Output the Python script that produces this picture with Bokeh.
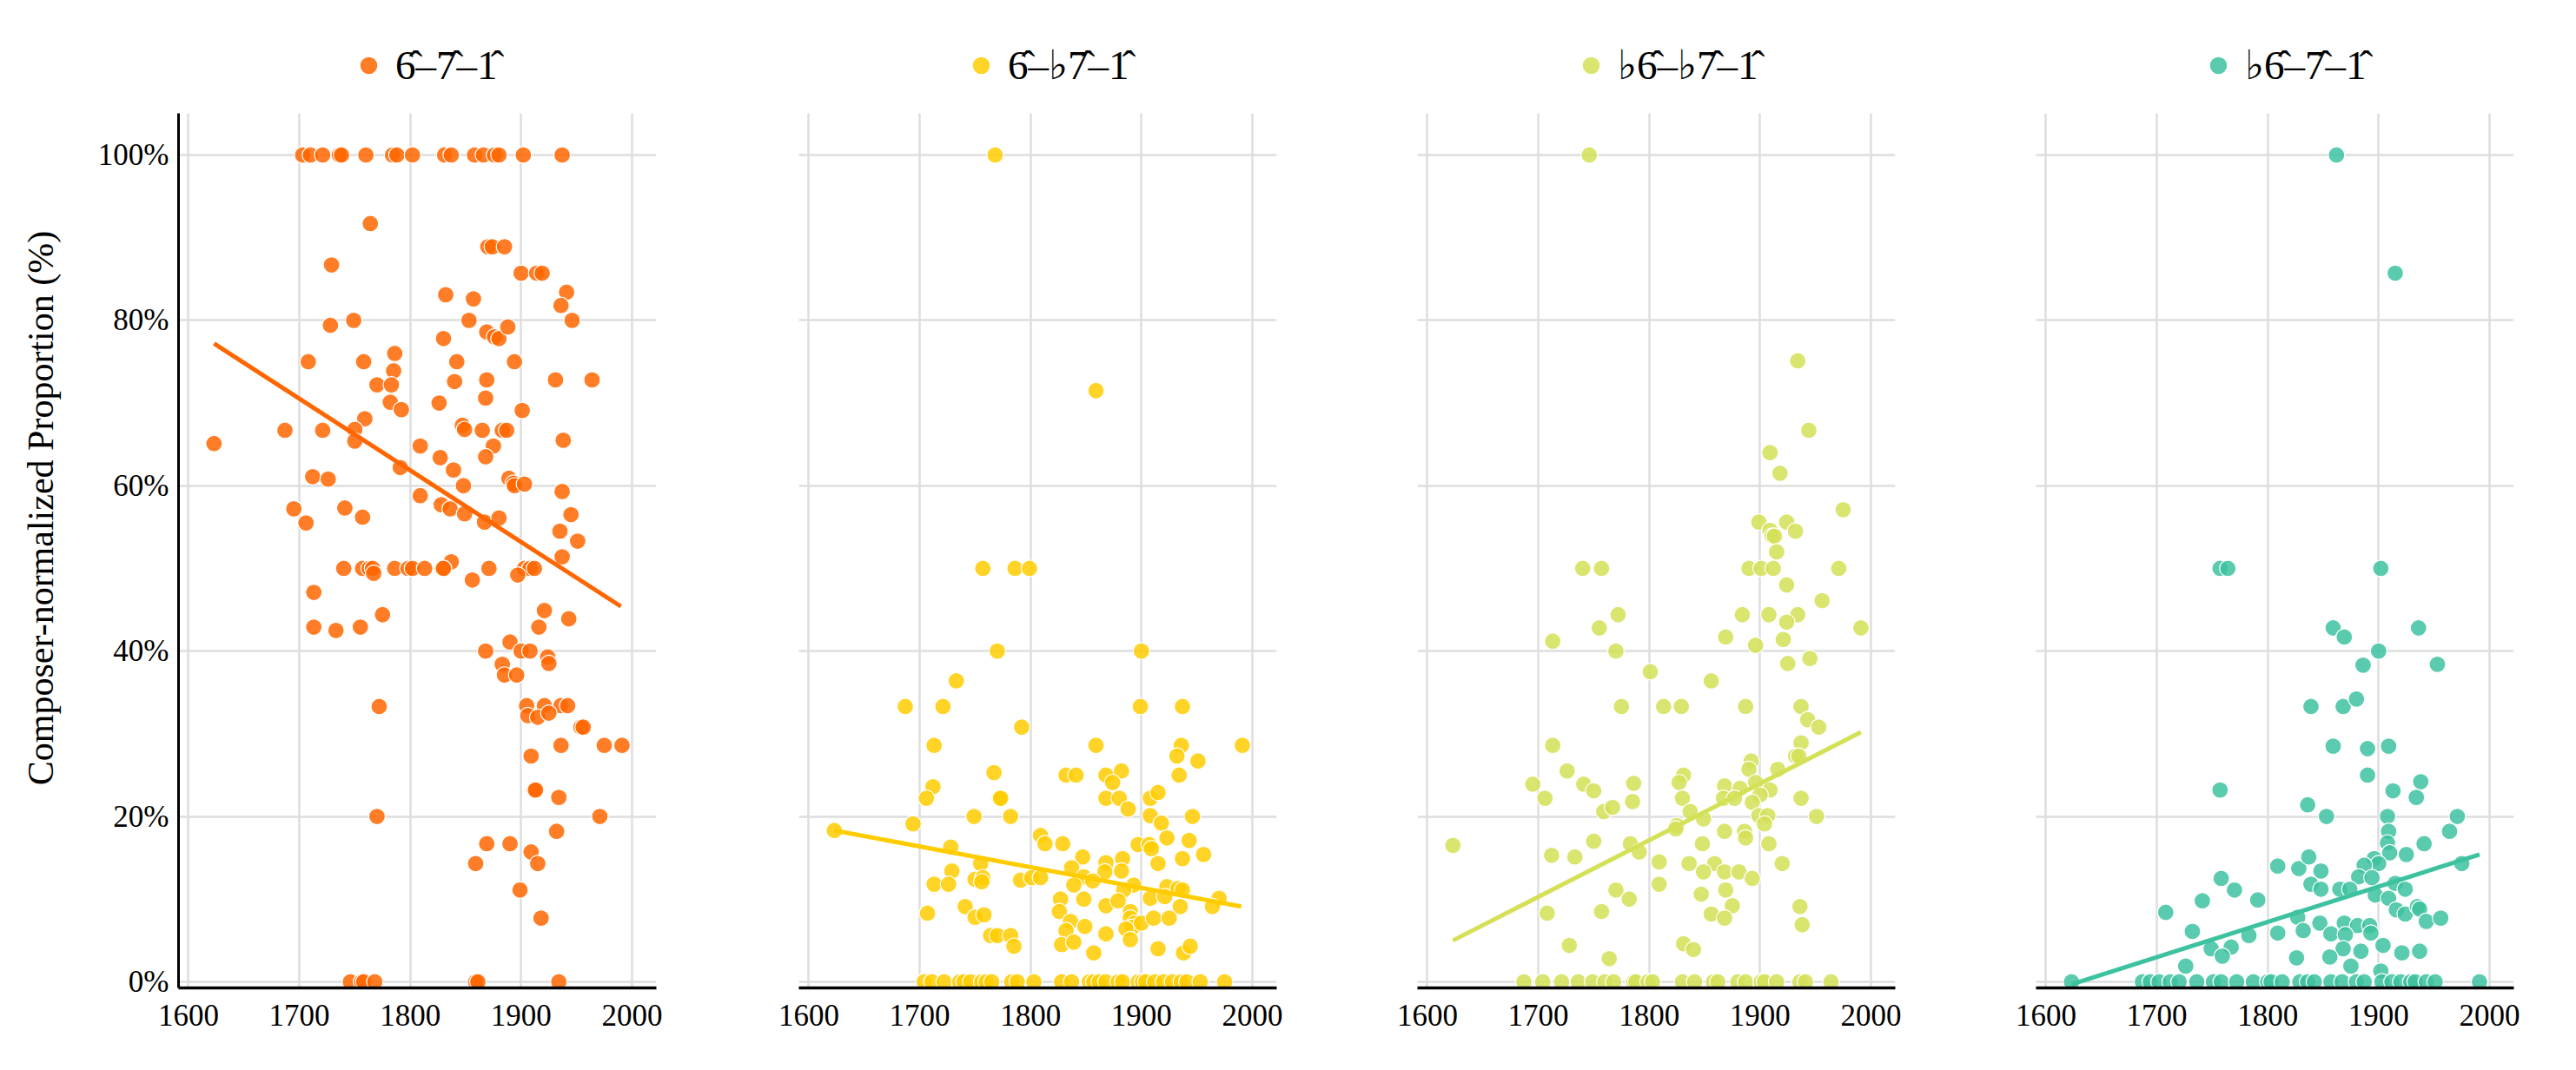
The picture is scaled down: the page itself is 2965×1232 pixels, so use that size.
from bokeh.plotting import figure
from bokeh.layouts import row
from bokeh.models import Range1d, FixedTicker, Legend, LegendItem, PrintfTickFormatter, BoxAnnotation
from bokeh.embed import file_html
from bokeh.resources import INLINE

FONT = "Liberation Serif"

# ---- data: (composer year, composer-normalized proportion in %) ----
years_1 = [1703, 1710, 1721, 1736, 1738, 1760, 1784, 1788, 1802, 1831, 1837, 1858, 1866, 1876, 1880, 1902, 1937,
           1764, 1870, 1874, 1885, 1729, 1900, 1914, 1919, 1832, 1857, 1941, 1936, 1853, 1749, 1728, 1946,
           1869, 1876, 1880, 1888, 1830, 1786, 1708, 1758, 1842, 1894, 1785, 1770, 1783, 1840, 1869, 1931,
           1964, 1782, 1792, 1826, 1868, 1901, 1759, 1687, 1721, 1750, 1623, 1750, 1847, 1849, 1865, 1883,
           1887, 1938, 1875, 1868, 1809, 1827, 1839, 1791, 1848, 1712, 1726, 1889, 1893, 1894, 1903, 1937,
           1809, 1828, 1836, 1849, 1867, 1880, 1695, 1706, 1741, 1757, 1945, 1935, 1951, 1937, 1837,
           1740, 1757, 1763, 1766, 1786, 1798, 1802, 1813, 1829, 1830, 1871, 1903, 1908, 1912,
           1767, 1856, 1897, 1713, 1713, 1733, 1755, 1775, 1921, 1943, 1916, 1890, 1868, 1900, 1908, 1924,
           1925, 1883, 1885, 1896, 1772, 1905, 1921, 1936, 1942, 1906, 1915, 1925, 1954, 1956, 1936, 1975,
           1991, 1909, 1912, 1913, 1934, 1770, 1971, 1932, 1869, 1890, 1909, 1859, 1915, 1899, 1918,
           1746, 1756, 1758, 1768, 1859, 1861, 1934]
pct_1 = [100, 100, 100, 100, 100, 100, 100, 100, 100, 100, 100, 100, 100, 100, 100, 100, 100,
         91.7, 88.9, 88.9, 88.9, 86.7, 85.7, 85.7, 85.7, 83.1, 82.6, 83.4, 81.8, 80.0, 80.0, 79.4, 80.0,
         78.6, 78.0, 77.8, 79.2, 77.8, 76.0, 75.0, 75.0, 75.0, 75.0, 73.9, 72.2, 72.2, 72.6, 72.8, 72.8,
         72.8, 70.1, 69.2, 70.0, 70.6, 69.1, 68.1, 66.7, 66.7, 66.8, 65.1, 65.4, 67.3, 66.8, 66.7, 66.7,
         66.7, 65.5, 64.8, 63.5, 64.8, 63.4, 61.9, 62.2, 60.0, 61.1, 60.8, 60.9, 60.3, 60.0, 60.2, 59.3,
         58.8, 57.7, 57.2, 56.6, 55.6, 56.1, 57.2, 55.5, 57.3, 56.2, 56.5, 54.5, 53.3, 51.4, 50.8,
         50, 50, 50, 50, 50, 50, 50, 50, 50, 50, 50, 50, 50, 50,
         49.4, 48.6, 49.2, 47.1, 42.9, 42.5, 42.9, 44.4, 44.9, 43.9, 42.9, 41.1, 40.0, 40.0, 40.0, 39.3,
         38.5, 38.4, 37.1, 37.1, 33.3, 33.4, 33.4, 33.4, 33.4, 32.2, 32.0, 32.5, 30.8, 30.8, 28.6, 28.6,
         28.6, 27.3, 23.2, 23.2, 22.3, 20.0, 20.0, 18.2, 16.7, 16.7, 15.7, 14.3, 14.3, 11.1, 7.7,
         0, 0, 0, 0, 0, 0, 0]

years_2 = [1768, 1859, 1757, 1786, 1799, 1770, 1900, 1733, 1687, 1721, 1899, 1937, 1792, 1713, 1859, 1936, 1991,
           1932, 1951, 1767, 1832, 1841, 1868, 1934, 1882, 1874, 1712, 1706, 1772, 1773, 1868, 1880, 1908,
           1888, 1915, 1749, 1782, 1946, 1908, 1918, 1694, 1623, 1809, 1813, 1829, 1923, 1943, 1897, 1907,
           1909, 1728, 1847, 1883, 1868, 1956, 1937, 1915, 1755, 1837, 1848, 1867, 1882, 1729, 1750, 1757,
           1756, 1791, 1801, 1809, 1856, 1839, 1713, 1726, 1893, 1884, 1923, 1933, 1937, 1908, 1921, 1970,
           1964, 1935, 1827, 1848, 1868, 1879, 1890, 1826, 1836, 1849, 1832, 1890, 1894, 1892, 1900, 1911,
           1925, 1886, 1707, 1741, 1750, 1758, 1764, 1770, 1782, 1785, 1828, 1839, 1868, 1857, 1890, 1915,
           1938, 1944,
           1704, 1711, 1722, 1736, 1740, 1746, 1756, 1760, 1765, 1783, 1788, 1803, 1828, 1837, 1853, 1857,
           1862, 1868, 1879, 1883, 1897, 1901, 1904, 1912, 1920, 1928, 1936, 1941, 1953, 1975]
pct_2 = [100, 71.5, 50, 50, 50, 40, 40, 36.4, 33.3, 33.3, 33.3, 33.3, 30.8, 28.6, 28.6, 28.6, 28.6,
         27.3, 26.7, 25.3, 25.0, 25.0, 25.0, 25.0, 25.5, 24.1, 23.6, 22.2, 22.2, 22.2, 22.2, 22.2, 22.2,
         20.9, 22.9, 20.0, 20.0, 20.0, 20.1, 19.2, 19.1, 18.3, 17.7, 16.7, 16.7, 17.4, 17.1, 16.6, 16.6,
         16.1, 16.3, 15.1, 14.9, 14.4, 15.4, 14.9, 14.3, 14.3, 13.8, 12.7, 13.3, 13.4, 13.4, 12.4, 12.6,
         12.1, 12.3, 12.6, 12.6, 12.2, 11.7, 11.8, 11.8, 11.7, 11.1, 11.5, 11.3, 11.1, 10.1, 10.3, 10.1,
         9.1, 9.1, 10.0, 10.0, 9.2, 9.8, 8.5, 8.5, 7.3, 6.7, 6.2, 7.7, 7.1, 6.6, 7.1, 7.7,
         7.7, 6.4, 8.3, 9.1, 7.8, 8.1, 5.6, 5.6, 5.6, 4.3, 4.5, 4.8, 5.8, 3.5, 5.1, 4.0,
         3.5, 4.3,
         0, 0, 0, 0, 0, 0, 0, 0, 0, 0, 0, 0, 0, 0, 0, 0,
         0, 0, 0, 0, 0, 0, 0, 0, 0, 0, 0, 0, 0, 0]

years_3 = [1746, 1934, 1944, 1909, 1918, 1975, 1899, 1924, 1909, 1932, 1911, 1913, 1915,
           1740, 1757, 1890, 1901, 1912, 1971, 1924, 1956, 1772, 1884, 1908, 1934,
           1924, 1991, 1755, 1713, 1869, 1921, 1896, 1770, 1925, 1945, 1801, 1856,
           1775, 1813, 1829, 1887, 1937, 1943, 1953, 1713, 1937, 1932, 1935, 1892, 1890, 1916, 1726, 1695,
           1741, 1750, 1706, 1786, 1785, 1831, 1827, 1830, 1868, 1882, 1867, 1877, 1896, 1909, 1900, 1893,
           1937, 1759, 1767, 1837, 1849, 1899, 1907, 1904, 1951, 1825, 1824, 1868, 1886, 1887,
           1623, 1750, 1783, 1791, 1848, 1908, 1712, 1733, 1809, 1836, 1859, 1849, 1868, 1881, 1893, 1920,
           1809, 1770, 1782, 1847, 1869, 1875, 1708, 1757, 1856, 1868, 1936, 1938, 1728, 1831, 1840, 1764,
           1687, 1704, 1721, 1736, 1749, 1760, 1768, 1786, 1788, 1799, 1803, 1830, 1841, 1858, 1862, 1880,
           1887, 1901, 1904, 1915, 1936, 1941, 1964]
pct_3 = [100, 75.1, 66.7, 64.0, 61.5, 57.1, 55.6, 55.6, 54.6, 54.5, 53.9, 53.9, 52.0,
         50, 50, 50, 50, 50, 50, 48.0, 46.1, 44.4, 44.4, 44.4, 44.4,
         43.5, 42.8, 42.8, 41.2, 41.7, 41.4, 40.7, 40.0, 38.5, 39.1, 37.5, 36.4,
         33.3, 33.3, 33.3, 33.3, 33.3, 31.7, 30.8, 28.6, 28.9, 27.3, 27.3, 26.7, 25.7, 25.7, 25.5, 23.9,
         23.9, 23.1, 22.2, 24.0, 21.8, 25.0, 24.1, 22.2, 23.7, 23.4, 22.2, 22.2, 24.1, 23.2, 22.6, 21.7,
         22.2, 20.6, 21.1, 20.6, 19.7, 20.1, 20.1, 19.1, 20.0, 18.9, 18.5, 18.2, 18.2, 17.4,
         16.5, 17.0, 16.7, 15.7, 16.7, 16.7, 15.3, 15.1, 14.5, 14.3, 14.3, 13.3, 13.3, 13.3, 12.5, 14.3,
         11.8, 11.1, 10.0, 10.6, 11.1, 9.2, 8.3, 8.5, 8.2, 7.7, 9.1, 6.9, 4.4, 4.6, 3.9, 2.8,
         0, 0, 0, 0, 0, 0, 0, 0, 0, 0, 0, 0, 0, 0, 0, 0,
         0, 0, 0, 0, 0, 0, 0]

years_4 = [1862, 1915, 1757, 1764, 1902, 1859, 1869, 1936, 1900, 1886, 1953, 1839, 1868, 1880, 1859, 1890, 1909,
           1890, 1938, 1757, 1913, 1934, 1836, 1853, 1908, 1971, 1909, 1964, 1908, 1941, 1910, 1925, 1896,
           1900, 1975, 1809, 1828, 1837, 1848, 1887, 1882, 1894, 1758,
           1839, 1848, 1865, 1874, 1915, 1924, 1770, 1741, 1791, 1708, 1897, 1909, 1916, 1924, 1935, 1937,
           1943, 1956, 1827, 1847, 1832, 1857, 1869, 1881, 1892, 1870, 1893, 1809, 1783, 1732,
           1749, 1767, 1759, 1904, 1921, 1937, 1868, 1884, 1856, 1826, 1875, 1726, 1902,
           1623, 1687, 1694, 1702, 1712, 1720, 1736, 1751, 1758, 1772, 1787, 1800, 1803, 1813, 1829, 1836,
           1842, 1857, 1867, 1880, 1887, 1903, 1912, 1920, 1929, 1933, 1943, 1951, 1991]
pct_4 = [100, 85.7, 50, 50, 50, 42.8, 41.7, 42.8, 40.0, 38.3, 38.4, 33.3, 33.3, 34.2, 28.5, 28.2, 28.5,
         25.0, 24.2, 23.2, 23.1, 22.3, 21.4, 20, 20, 20, 18.2, 18.2, 16.8, 16.7, 15.6, 15.4, 14.9,
         14.3, 14.3, 14.0, 13.7, 15.1, 13.4, 14.1, 12.7, 12.6, 12.5,
         11.8, 11.2, 11.2, 11.2, 11.9, 11.2, 11.1, 9.8, 9.9, 8.4, 10.5, 10.1, 8.7, 8.2, 9.1, 8.8,
         7.3, 7.7, 7.8, 7.1, 6.2, 5.8, 7.1, 6.8, 6.8, 5.7, 5.9, 5.9, 5.6, 6.1,
         4.0, 4.2, 3.1, 4.4, 3.5, 3.7, 4.0, 3.7, 3.0, 2.9, 1.9, 1.9, 1.3,
         0, 0, 0, 0, 0, 0, 0, 0, 0, 0, 0, 0, 0, 0, 0, 0,
         0, 0, 0, 0, 0, 0, 0, 0, 0, 0, 0, 0, 0]

# trend lines (start / end)
trend_x_1, trend_y_1 = [1623, 1990], [77.2, 45.4]
trend_x_2, trend_y_2 = [1623, 1990], [18.3, 9.1]
trend_x_3, trend_y_3 = [1623, 1991], [5.0, 30.2]
trend_x_4, trend_y_4 = [1623, 1991], [-0.3, 15.4]

labels = ["6\u0302\u20137\u0302\u20131\u0302",
          "6\u0302\u2013\u266d7\u0302\u20131\u0302",
          "\u266d6\u0302\u2013\u266d7\u0302\u20131\u0302",
          "\u266d6\u0302\u20137\u0302\u20131\u0302"]
colors = ["#FF6600", "#FFCC00", "#D4E157", "#3DC2A0"]
x_ticks = [1600, 1700, 1800, 1900, 2000]
y_ticks = [0, 20, 40, 60, 80, 100]

series = [(years_1, pct_1, trend_x_1, trend_y_1),
          (years_2, pct_2, trend_x_2, trend_y_2),
          (years_3, pct_3, trend_x_3, trend_y_3),
          (years_4, pct_4, trend_x_4, trend_y_4)]

borders = [(205, 82), (82, 81), (81, 81), (81, 40)]
legend_x = [193, 184, 174, 184]   # left edge of each legend, px from frame left
Y_MIN, Y_TOP = -0.74, 105.04      # visible data area
Y_END = 115.33                    # frame extends upward to hold the legend
FRAME_W, FRAME_H = 550, 1105
LEGEND_Y = 1035                   # px above frame bottom

figs = []
for i, (xs, ys, tx, ty) in enumerate(series):
    p = figure(frame_width=FRAME_W, frame_height=FRAME_H,
               x_range=Range1d(1591, 2022), y_range=Range1d(Y_MIN, Y_END),
               output_backend="svg", toolbar_location=None,
               min_border_left=borders[i][0], min_border_right=borders[i][1],
               min_border_top=32, min_border_bottom=70)
    p.title.visible = False
    p.outline_line_color = None
    p.background_fill_color = "white"
    p.border_fill_color = "white"

    p.xgrid.ticker = FixedTicker(ticks=x_ticks)
    p.ygrid.ticker = FixedTicker(ticks=y_ticks)
    p.grid.grid_line_color = "#dedede"
    p.grid.grid_line_width = 2.5
    # blank band above the data area (holds the legend)
    p.add_layout(BoxAnnotation(bottom=Y_TOP, fill_color="white", fill_alpha=1.0,
                               line_color=None, level="underlay"))

    r = p.scatter(xs, ys, size=19, fill_color=colors[i], fill_alpha=0.85,
                  line_color="white", line_width=1.2)
    p.line(tx, ty, line_color=colors[i], line_width=5)

    p.xaxis.ticker = FixedTicker(ticks=x_ticks)
    p.xaxis.major_label_text_font = FONT
    p.xaxis.major_label_text_font_size = "35px"
    p.xaxis.major_label_text_color = "black"
    p.xaxis.major_tick_line_color = None
    p.xaxis.minor_tick_line_color = None
    p.xaxis.major_tick_out = 0
    p.xaxis.major_tick_in = 0
    p.xaxis.axis_line_width = 3.5
    p.xaxis.axis_line_color = "black"
    p.xaxis.major_label_standoff = 19

    if i == 0:
        p.yaxis.ticker = FixedTicker(ticks=y_ticks)
        p.yaxis.bounds = (Y_MIN, Y_TOP)
        p.yaxis.formatter = PrintfTickFormatter(format="%d%%")
        p.yaxis.major_label_text_font = FONT
        p.yaxis.major_label_text_font_size = "35px"
        p.yaxis.major_label_text_color = "black"
        p.yaxis.major_tick_line_color = None
        p.yaxis.minor_tick_line_color = None
        p.yaxis.major_tick_out = 0
        p.yaxis.major_tick_in = 0
        p.yaxis.axis_line_width = 3
        p.yaxis.axis_line_color = "black"
        p.yaxis.major_label_standoff = 11
        p.yaxis.axis_label = "Composer-normalized Proportion (%)"
        p.yaxis.axis_label_text_font = FONT
        p.yaxis.axis_label_text_font_size = "42px"
        p.yaxis.axis_label_text_font_style = "normal"
        p.yaxis.axis_label_text_color = "black"
        p.yaxis.axis_label_standoff = 40
    else:
        p.yaxis.visible = False

    legend = Legend(items=[LegendItem(label=labels[i], renderers=[r])],
                    location=(legend_x[i], LEGEND_Y), orientation="horizontal",
                    label_text_font=FONT, label_text_font_size="47px",
                    label_text_color="black",
                    glyph_width=52, glyph_height=52, label_standoff=5,
                    padding=0, margin=0, spacing=0,
                    border_line_color=None, background_fill_alpha=0)
    p.add_layout(legend, "center")
    figs.append(p)

layout = row(*figs)
open("out.html", "w").write(file_html(layout, INLINE))
